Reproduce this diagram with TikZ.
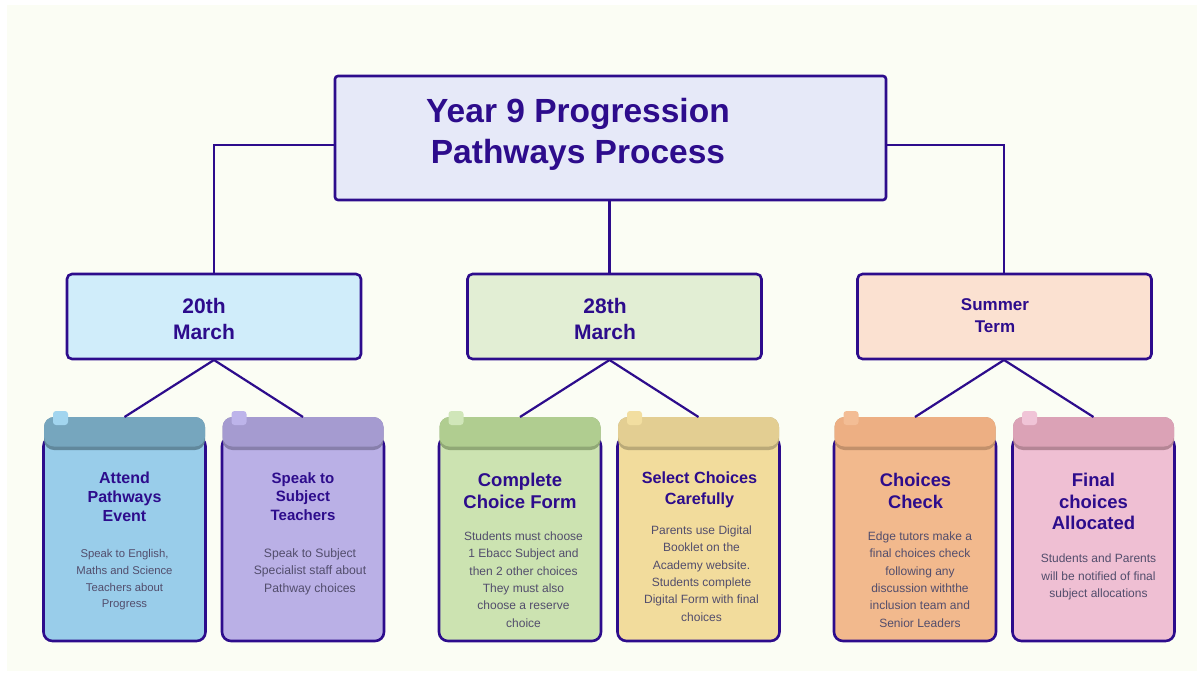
\documentclass[tikz,border=0pt]{standalone}
\usepackage{fontspec}
\setmainfont{Liberation Sans}
\definecolor{ink}{HTML}{2D0C8C}
\definecolor{bodytxt}{HTML}{524D6C}
\definecolor{bgc}{HTML}{FBFDF4}
\definecolor{titlefill}{HTML}{E6E9F8}
\definecolor{lblue}{HTML}{D0EDFA}
\definecolor{lgreen}{HTML}{E2EED4}
\definecolor{lpeach}{HTML}{FBE1D1}
\definecolor{bA}{HTML}{99CDEA}\definecolor{hA}{HTML}{76A6BE}\definecolor{tA}{HTML}{A2D5EF}
\definecolor{bB}{HTML}{BAB0E6}\definecolor{hB}{HTML}{A59BD0}\definecolor{tB}{HTML}{BDB4EA}
\definecolor{bC}{HTML}{CCE3B1}\definecolor{hC}{HTML}{B0CD90}\definecolor{tC}{HTML}{D0E6B9}
\definecolor{bD}{HTML}{F2DC9C}\definecolor{hD}{HTML}{E3CE92}\definecolor{tD}{HTML}{F2DEA0}
\definecolor{bE}{HTML}{F2B98D}\definecolor{hE}{HTML}{EDAF83}\definecolor{tE}{HTML}{F3BD95}
\definecolor{bF}{HTML}{EFBFD3}\definecolor{hF}{HTML}{DBA2B6}\definecolor{tF}{HTML}{F0C4D7}
\tikzset{
  boxline/.style={draw=ink, line width=2.6pt},
  conn/.style={draw=ink, line width=2.2pt},
  titlebox/.style={boxline, fill=titlefill, rounded corners=3pt, minimum width=551pt, minimum height=124pt, inner sep=0pt},
  midbox/.style={boxline, rounded corners=5pt, minimum width=294pt, minimum height=85pt, inner sep=0pt},
  cardtitle/.style={text=ink, align=center, inner sep=0pt},
  cardbody/.style={text=bodytxt, align=center, inner sep=0pt},
}
\newcommand{\mycard}[5]{%
  \path[fill=#3, boxline, rounded corners=9pt] ({#1-81},437) rectangle ({#1+81},641);
  \fill[#4!82!black, rounded corners=10pt] ({#1-80.5},417) rectangle ({#1+80.5},450);
  \fill[#4, rounded corners=10pt] ({#1-80.5},417) rectangle ({#1+80.5},446.5);
  \fill[#5, rounded corners=3pt] ({#1-71.5},411) rectangle ({#1-56.5},425);
  \coordinate (#2) at (#1,417);
}
\begin{document}
\begin{tikzpicture}[x=1pt,y=-1pt]
\useasboundingbox (0,0) rectangle (1203,675);
\fill[bgc] (7,5) rectangle (1197,671);

% title
\node[titlebox] (title) at (610.5,138) {};
\node[text=ink, align=center, font=\fontsize{33.5}{41}\selectfont\bfseries] (titletxt) at (578,134.5) {Year 9 Progression\\Pathways Process};

% middle level boxes
\node[midbox, fill=lblue] (m1) at (214,316.5) {};
\node[midbox, fill=lgreen] (m2) at (614.5,316.5) {};
\node[midbox, fill=lpeach] (m3) at (1004.5,316.5) {};
\node[text=ink, align=center, font=\fontsize{21}{26}\selectfont\bfseries] (m1t) at (204,319) {20th\\March};
\node[text=ink, align=center, font=\fontsize{21}{26}\selectfont\bfseries] (m2t) at (605,319) {28th\\March};
\node[text=ink, align=center, font=\fontsize{17}{22}\selectfont\bfseries] (m3t) at (995,316) {Summer\\Term};

% connectors title -> middle
\coordinate (tl) at (335,145);
\coordinate (tr) at (886,145);
\coordinate (tb) at (609.5,200);
\coordinate (m1n) at (214,274);
\coordinate (m2n) at (609.5,274);
\coordinate (m3n) at (1004,274);
\draw[conn] (tl) -| (m1n);
\draw[conn] (tr) -| (m3n);
\draw[conn] (tb) -- (m2n);

% cards
\mycard{124.5}{c1}{bA}{hA}{tA}
\mycard{303}{c2}{bB}{hB}{tB}
\mycard{520}{c3}{bC}{hC}{tC}
\mycard{698.5}{c4}{bD}{hD}{tD}
\mycard{915}{c5}{bE}{hE}{tE}
\mycard{1093.5}{c6}{bF}{hF}{tF}

% connectors middle -> cards
\coordinate (a1) at (214,360);
\coordinate (a2) at (609.5,360);
\coordinate (a3) at (1004,360);
\draw[conn] (c1) -- (a1) -- (c2);
\draw[conn] (c3) -- (a2) -- (c4);
\draw[conn] (c5) -- (a3) -- (c6);

% card texts
\node[cardtitle, font=\fontsize{16}{19}\selectfont\bfseries] (c1t) at (124.5,497) {Attend\\Pathways\\Event};
\node[cardbody, font=\fontsize{11.3}{16.7}\selectfont] (c1b) at (124.5,580) {Speak to English,\\Maths and Science\\Teachers about\\Progress};

\node[cardtitle, font=\fontsize{15}{18.5}\selectfont\bfseries] (c2t) at (303,496.5) {Speak to\\Subject\\Teachers};
\node[cardbody, font=\fontsize{12.2}{17.5}\selectfont] (c2b) at (310,571.5) {Speak to Subject\\Specialist staff about\\Pathway choices};

\node[cardtitle, font=\fontsize{18.5}{22.5}\selectfont\bfseries] (c3t) at (520,491) {Complete\\Choice Form};
\node[cardbody, font=\fontsize{12}{17.3}\selectfont] (c3b) at (523.5,579.5) {Students must choose\\1 Ebacc Subject and\\then 2 other choices\\They must also\\choose a reserve\\choice};

\node[cardtitle, font=\fontsize{16.2}{20.5}\selectfont\bfseries] (c4t) at (699.5,490) {Select Choices\\Carefully};
\node[cardbody, font=\fontsize{12}{17.4}\selectfont] (c4b) at (701.5,573.5) {Parents use Digital\\Booklet on the\\Academy website.\\Students complete\\Digital Form with final\\choices};

\node[cardtitle, font=\fontsize{18.3}{22.5}\selectfont\bfseries] (c5t) at (915.5,491) {Choices\\Check};
\node[cardbody, font=\fontsize{12}{17.3}\selectfont] (c5b) at (920,579.5) {Edge tutors make a\\final choices check\\following any\\discussion withthe\\inclusion team and\\Senior Leaders};

\node[cardtitle, font=\fontsize{18.5}{21.5}\selectfont\bfseries] (c6t) at (1093.5,501.5) {Final\\choices\\Allocated};
\node[cardbody, font=\fontsize{12}{17.3}\selectfont] (c6b) at (1098.5,577) {Students and Parents\\will be notified of final\\subject allocations};
\end{tikzpicture}
\end{document}
